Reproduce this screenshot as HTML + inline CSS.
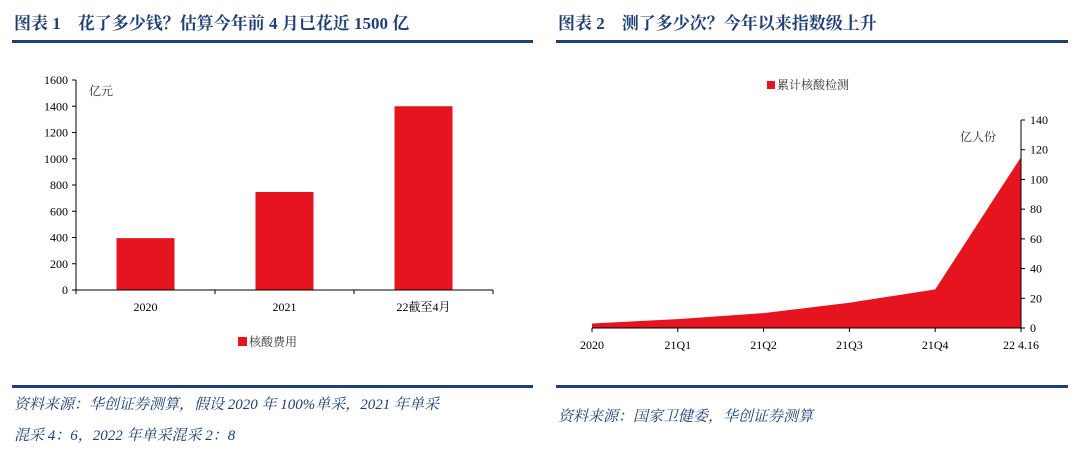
<!DOCTYPE html>
<html><head><meta charset="utf-8"><style>
body{margin:0;width:1080px;height:463px;background:#fff;overflow:hidden;font-family:"Liberation Serif","Noto Serif CJK SC",serif}
.t{position:absolute;top:9px;font-size:17px;font-weight:bold;color:#1f3f75;white-space:nowrap}
.ln{position:absolute;height:3px;background:#1f3f75}
.src{position:absolute;font-size:15px;font-style:italic;color:#1f3f75;line-height:31px;font-family:"Liberation Serif","Noto Serif CJK SC",serif}
</style></head><body>
<div class="t" style="left:14px">图表 1　花了多少钱？估算今年前 4 月已花近 1500 亿</div>
<div class="t" style="left:558px">图表 2　测了多少次？今年以来指数级上升</div>
<div class="ln" style="left:12px;top:40px;width:521px"></div>
<div class="ln" style="left:556px;top:40px;width:512px"></div>
<div class="ln" style="left:12px;top:385px;width:521px"></div>
<div class="ln" style="left:556px;top:385px;width:512px"></div>
<div class="src" style="left:14px;top:390px;width:520px">资料来源：华创证券测算，假设 2020 年 100%单采，2021 年单采<br>混采 4：6，2022 年单采混采 2：8</div>
<div class="src" style="left:558px;top:402px">资料来源：国家卫健委，华创证券测算</div>
<svg id="c" width="1080" height="463" style="position:absolute;left:0;top:0" font-family="Liberation Serif, Noto Serif CJK SC, serif" font-size="12"></svg>
<script>
const barCats=["2020","2021","22截至4月"];
const barVals=[395,747,1400];
const barTicks=[0,200,400,600,800,1000,1200,1400,1600];
const areaCats=["2020","21Q1","21Q2","21Q3","21Q4","22 4.16"];
const areaVals=[3,6,10,17,26,115];
const areaTicks=[0,20,40,60,80,100,120,140];
const s=document.getElementById('c');const NS='http://www.w3.org/2000/svg';
function mk(t,a,txt){const e=document.createElementNS(NS,t);for(const k in a)e.setAttribute(k,a[k]);if(txt!=null)e.textContent=txt;s.appendChild(e);return e;}
// left bar chart
const lx0=76,lx1=493,ly0=290,ly1=80;
const ly=v=>ly0-(v/1600)*(ly0-ly1);
const bw=(lx1-lx0)/barCats.length;
let e=mk('line',{x1:lx0,y1:ly1,x2:lx0,y2:ly0,stroke:'#000'});
barTicks.forEach(v=>{mk('line',{x1:lx0-4,x2:lx0,y1:ly(v),y2:ly(v),stroke:'#000'});const t=mk('text',{x:lx0-8,y:ly(v)+4,'text-anchor':'end'},v);});
barCats.forEach((c,i)=>{const cx=lx0+bw*(i+0.5);const r=mk('rect',{x:cx-29,y:ly(barVals[i]),width:58,height:ly0-ly(barVals[i]),fill:'#e5141f'});
const t=mk('text',{x:cx,y:311,'text-anchor':'middle'},c);});
for(let i=0;i<=barCats.length;i++)mk('line',{x1:lx0+bw*i,x2:lx0+bw*i,y1:ly0,y2:ly0+4,stroke:'#000'});
e=mk('line',{x1:lx0,y1:ly0,x2:lx1,y2:ly0,stroke:'#000'});
e=mk('text',{x:89,y:95,fill:'#333'},'亿元');
e=mk('rect',{x:238,y:337,width:9,height:9,fill:'#e5141f'});
e=mk('text',{x:249,y:346,fill:'#333'},'核酸费用');
// right area chart
const rx0=592,rx1=1021,ry0=328,ry1=120;
const rx=i=>rx0+i*(rx1-rx0)/(areaCats.length-1);
const ry=v=>ry0-(v/140)*(ry0-ry1);
let d='M'+rx(0)+','+ry0;areaVals.forEach((v,i)=>d+=' L'+rx(i)+','+ry(v));d+=' L'+rx(areaVals.length-1)+','+ry0+'Z';
e=mk('path',{d:d,fill:'#e5141f'});
e=mk('line',{x1:rx0,y1:ry0,x2:rx1,y2:ry0,stroke:'#000'});
e=mk('line',{x1:rx1,y1:ry1,x2:rx1,y2:ry0,stroke:'#000'});
areaTicks.forEach(v=>{mk('line',{x1:rx1,x2:rx1+4,y1:ry(v),y2:ry(v),stroke:'#000'});const t=mk('text',{x:rx1+9,y:ry(v)+4},v);});
areaCats.forEach((c,i)=>{mk('line',{x1:rx(i),x2:rx(i),y1:ry0,y2:ry0+4,stroke:'#000'});const t=mk('text',{x:rx(i),y:349,'text-anchor':'middle'},c);});
e=mk('text',{x:960,y:141,fill:'#333'},'亿人份');
e=mk('rect',{x:767,y:81,width:8,height:8,fill:'#e5141f'});
e=mk('text',{x:777,y:89,fill:'#333'},'累计核酸检测');
</script>
</body></html>
